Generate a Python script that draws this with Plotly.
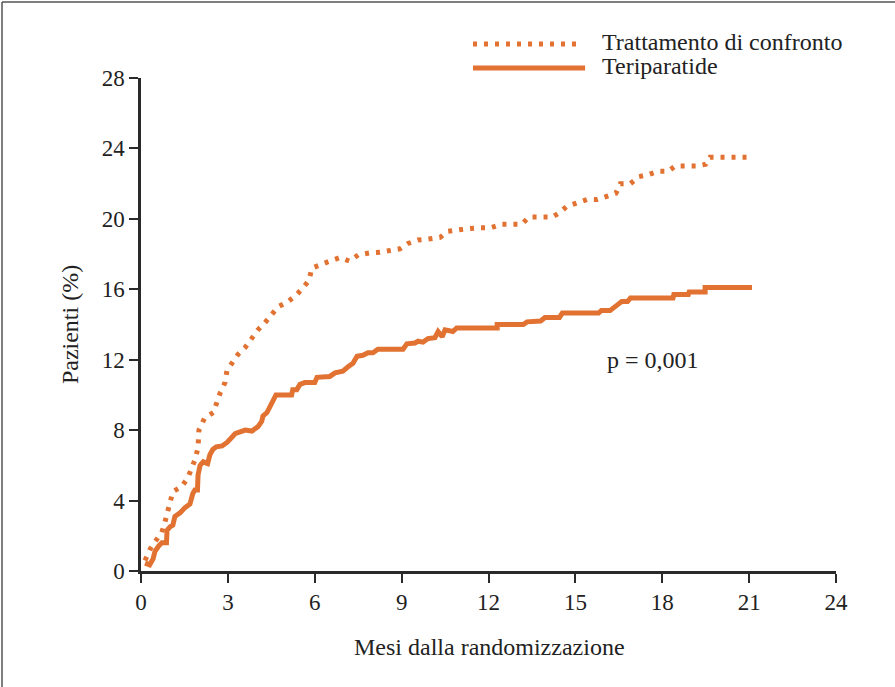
import plotly.graph_objects as go

# Data
months_confronto = [0.14, 0.3, 0.48, 0.72, 0.83, 0.9, 1.0, 1.1, 1.41, 1.62, 1.86, 1.97, 2.0, 2.2, 2.5,
                    2.6, 2.73, 2.9, 2.97, 3.14, 3.35, 3.6, 3.83, 4.04, 4.28, 4.52, 4.73, 5.08, 5.38,
                    5.6, 5.8, 5.9, 6.18, 6.52, 6.87, 7.2, 7.5, 7.9, 8.25, 8.6, 8.94, 9.22, 9.57, 9.9,
                    10.33, 10.6, 10.95, 11.36, 11.7, 12.1, 12.46, 12.8, 13.15, 13.4, 13.8, 14.2, 14.45,
                    14.7, 15.05, 15.4, 15.75, 16.1, 16.4, 16.55, 16.9, 17.2, 17.5, 17.85, 18.2, 18.45,
                    18.8, 19.2, 19.5, 19.65, 20.1, 20.4, 20.8, 21.1]
pct_confronto = [0.6, 1.2, 1.65, 2.2, 2.8, 3.3, 3.9, 4.5, 4.8, 5.3, 6.3, 7.0, 8.0, 8.7, 9.0,
                 9.5, 10.1, 10.7, 11.4, 11.8, 12.3, 12.7, 13.2, 13.7, 14.1, 14.6, 15.0, 15.3, 15.7,
                 16.1, 16.5, 17.2, 17.4, 17.6, 17.8, 17.6, 17.95, 18.07, 18.1, 18.2, 18.3, 18.6, 18.8, 18.85,
                 18.95, 19.3, 19.4, 19.45, 19.5, 19.5, 19.7, 19.7, 19.7, 20.1, 20.1, 20.1, 20.35,
                 20.7, 20.9, 21.1, 21.1, 21.25, 21.45, 22.0, 22.0, 22.4, 22.5, 22.7, 22.7, 23.0,
                 23.0, 23.0, 23.1, 23.5, 23.5, 23.5, 23.5, 23.5]

months_teri = [0.14, 0.3, 0.42, 0.48, 0.6, 0.72, 0.88, 0.9, 1.0, 1.1, 1.17, 1.35, 1.52, 1.69, 1.79,
               1.86, 1.95, 1.97, 2.04, 2.15, 2.3, 2.38, 2.48, 2.6, 2.8, 2.97, 3.14, 3.25, 3.42, 3.6,
               3.83, 4.04, 4.17, 4.21, 4.35, 4.45, 4.56, 4.66, 5.2, 5.24, 5.38, 5.49, 5.66, 6.0, 6.08,
               6.52, 6.7, 6.97, 7.15, 7.32, 7.46, 7.66, 7.84, 8.01, 8.18, 9.05, 9.18, 9.46, 9.57, 9.74,
               9.91, 10.15, 10.26, 10.4, 10.5, 10.77, 10.9, 12.3, 12.3, 13.2, 13.33, 13.8, 13.95, 14.45,
               14.55, 15.8, 15.9, 16.2, 16.44, 16.6, 16.8, 16.9, 18.37, 18.4, 18.9, 18.93, 19.48, 19.48, 21.1]
pct_teri = [0.45, 0.35, 0.7, 1.1, 1.4, 1.6, 1.6, 2.3, 2.5, 2.6, 3.1, 3.3, 3.6, 3.8, 4.4,
            4.6, 4.6, 5.45, 6.0, 6.2, 6.1, 6.6, 6.9, 7.05, 7.1, 7.3, 7.6, 7.8, 7.9, 8.0,
            7.95, 8.2, 8.5, 8.8, 9.0, 9.3, 9.7, 10.0, 10.0, 10.3, 10.3, 10.6, 10.7, 10.7, 11.0,
            11.05, 11.25, 11.35, 11.6, 11.8, 12.2, 12.25, 12.4, 12.4, 12.6, 12.6, 12.9, 12.95, 13.05, 13.0,
            13.2, 13.25, 13.6, 13.3, 13.7, 13.6, 13.8, 13.8, 14.0, 14.0, 14.15, 14.2, 14.4, 14.4,
            14.65, 14.65, 14.8, 14.8, 15.1, 15.3, 15.3, 15.5, 15.5, 15.7, 15.7, 15.85, 15.85, 16.1, 16.1]

series_names = ["Trattamento di confronto", "Teriparatide"]
x_ticks = [0, 3, 6, 9, 12, 15, 18, 21, 24]
y_ticks = [0, 4, 8, 12, 16, 20, 24, 28]
p_text = "p = 0,001"

ORANGE = "#E27232"
AXIS = "#2a2a2a"
FONT = "Liberation Serif, Times New Roman, serif"
DOT = "4px,7px"
TS = 24

fig = go.Figure()
fig.add_trace(go.Scatter(x=months_confronto, y=pct_confronto, mode="lines", name=series_names[0],
                         line=dict(color=ORANGE, width=5, dash=DOT), showlegend=False))
fig.add_trace(go.Scatter(x=months_teri, y=pct_teri, mode="lines", name=series_names[1],
                         line=dict(color=ORANGE, width=5), showlegend=False))

# Manual legend (long line samples like the reference)
fig.add_shape(type="line", xref="paper", yref="paper", x0=0.4777, x1=0.636, y0=1.069, y1=1.069,
              line=dict(color=ORANGE, width=5, dash=DOT))
fig.add_shape(type="line", xref="paper", yref="paper", x0=0.4777, x1=0.639, y0=1.0203, y1=1.0203,
              line=dict(color=ORANGE, width=5))
fig.add_annotation(xref="paper", yref="paper", x=0.6604, y=1.073, text=series_names[0], showarrow=False,
                   xanchor="left", yanchor="middle", font=dict(family=FONT, size=TS, color="#222"))
fig.add_annotation(xref="paper", yref="paper", x=0.6604, y=1.0243, text=series_names[1], showarrow=False,
                   xanchor="left", yanchor="middle", font=dict(family=FONT, size=TS, color="#222"))

# p-value
fig.add_annotation(x=17.68, y=12.0, text=p_text, showarrow=False, xanchor="center", yanchor="middle",
                   font=dict(family=FONT, size=TS, color="#222"))

# Axis titles
fig.add_annotation(xref="paper", yref="paper", x=0.502, y=-0.154, text="Mesi dalla randomizzazione",
                   showarrow=False, xanchor="center", yanchor="middle",
                   font=dict(family=FONT, size=TS, color="#222"))
fig.add_annotation(xref="paper", yref="paper", x=-0.102, y=0.499, text="Pazienti (%)", textangle=-90,
                   showarrow=False, xanchor="center", yanchor="middle",
                   font=dict(family=FONT, size=TS, color="#222"))

# Frame (left and top border)
fig.add_shape(type="line", xref="paper", yref="paper", x0=-0.2, x1=-0.2, y0=1.154, y1=-0.3,
              line=dict(color="#555", width=1.5))
fig.add_shape(type="line", xref="paper", yref="paper", x0=-0.2, x1=1.2, y0=1.154, y1=1.154,
              line=dict(color="#555", width=1.5))

fig.update_xaxes(range=[0, 24], tickvals=x_ticks, ticktext=[str(v) for v in x_ticks],
                 showgrid=False, zeroline=False, showline=True, linecolor=AXIS, linewidth=2.5,
                 ticks="outside", ticklen=9, tickwidth=1.5, tickcolor=AXIS,
                 tickfont=dict(family=FONT, size=23, color="#222"))
fig.update_yaxes(range=[0, 28], tickvals=y_ticks, ticktext=[str(v) for v in y_ticks],
                 showgrid=False, zeroline=False, showline=True, linecolor=AXIS, linewidth=2.5,
                 ticks="outside", ticklen=9, tickwidth=1.5, tickcolor=AXIS,
                 tickfont=dict(family=FONT, size=23, color="#222"))

fig.update_layout(width=895, height=687, margin=dict(l=141, r=59, t=78, b=116),
                  plot_bgcolor="white", paper_bgcolor="white",
                  font=dict(family=FONT, size=TS, color="#222"))

fig.write_html("out.html")
